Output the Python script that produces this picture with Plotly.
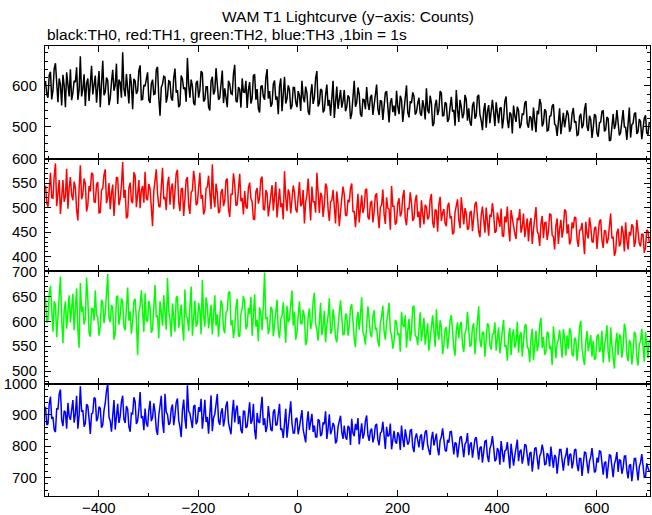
import plotly.graph_objects as go
from plotly.subplots import make_subplots

T_START = -507
BIN = 2.5

th0 = [612, 580, 571, 626, 634, 567, 589, 642, 655, 593, 560, 618, 603, 552, 627, 601, 548, 633, 596, 574,
       640, 565, 583, 612, 609, 645, 566, 590, 672, 574, 592, 628, 551, 606, 618, 563, 604, 649, 579, 598,
       625, 559, 597, 636, 548, 603, 661, 577, 585, 620, 613, 553, 570, 609, 639, 588, 601, 654, 556, 615,
       608, 571, 682, 593, 574, 629, 597, 557, 629, 605, 543, 617, 612, 580, 588, 637, 650, 566, 567, 602,
       599, 622, 633, 565, 558, 604, 615, 579, 580, 640, 646, 571, 527, 596, 604, 623, 621, 559, 575, 612,
       610, 570, 564, 619, 642, 583, 590, 548, 553, 625, 617, 592, 596, 561, 668, 603, 571, 615, 600, 558,
       553, 607, 612, 571, 589, 636, 631, 562, 566, 598, 598, 548, 540, 611, 622, 579, 587, 643, 609, 566,
       571, 601, 637, 558, 594, 572, 548, 612, 605, 581, 579, 629, 651, 563, 560, 597, 592, 547, 618, 585,
       584, 612, 546, 590, 609, 557, 570, 625, 628, 566, 592, 544, 535, 598, 601, 574, 566, 619, 641, 569,
       587, 549, 556, 604, 613, 566, 574, 531, 599, 618, 538, 580, 622, 557, 569, 601, 590, 543, 551, 596,
       596, 561, 548, 587, 577, 539, 612, 572, 560, 598, 583, 537, 529, 579, 604, 556, 571, 619, 636, 550,
       558, 592, 589, 535, 541, 578, 603, 551, 566, 527, 580, 612, 522, 569, 598, 544, 573, 590, 547, 563,
       590, 538, 548, 577, 571, 519, 532, 585, 612, 549, 559, 596, 580, 531, 525, 567, 566, 543, 597, 558,
       541, 572, 578, 529, 556, 590, 603, 544, 529, 565, 562, 517, 544, 583, 587, 552, 511, 559, 570, 536,
       552, 527, 588, 549, 531, 576, 566, 512, 540, 569, 601, 535, 523, 562, 558, 584, 575, 530, 536, 557,
       571, 533, 527, 565, 549, 518, 594, 541, 533, 576, 558, 502, 508, 553, 566, 529, 541, 587, 582, 526,
       528, 560, 556, 512, 519, 548, 573, 537, 541, 503, 590, 542, 512, 566, 549, 521, 532, 578, 567, 515,
       545, 511, 503, 552, 561, 520, 527, 574, 578, 530, 516, 492, 540, 558, 498, 537, 553, 509, 531, 566,
       536, 502, 560, 531, 509, 545, 548, 496, 521, 563, 574, 518, 497, 535, 530, 484, 552, 527, 512, 549,
       540, 497, 505, 533, 529, 558, 563, 508, 498, 526, 522, 491, 547, 515, 487, 539, 531, 568, 556, 501,
       509, 543, 538, 490, 492, 526, 527, 551, 555, 507, 503, 478, 521, 545, 482, 513, 534, 499, 516, 540,
       529, 488, 497, 532, 546, 510, 514, 479, 481, 525, 532, 497, 505, 543, 558, 502, 490, 527, 518, 473,
       498, 531, 527, 485, 476, 510, 512, 538, 539, 489, 493, 524, 520, 466, 468, 509, 531, 495, 506, 541,
       517, 479, 486, 523, 541, 500, 499, 468, 522, 547, 474, 505, 509, 531, 535, 483, 488, 519, 513, 470,
       495, 521, 528, 484, 482, 512]

th1 = [545, 509, 502, 548, 571, 520, 519, 565, 590, 503, 534, 556, 487, 531, 556, 512, 523, 579, 498, 540,
       562, 526, 515, 553, 541, 496, 474, 538, 586, 517, 527, 559, 549, 492, 505, 544, 533, 571, 568, 512,
       511, 547, 552, 489, 490, 536, 539, 567, 578, 509, 521, 550, 497, 528, 547, 483, 530, 562, 560, 505,
       518, 545, 593, 520, 536, 478, 482, 540, 551, 514, 509, 572, 565, 501, 527, 556, 499, 535, 544, 510,
       573, 519, 515, 548, 538, 491, 462, 533, 554, 578, 529, 503, 501, 546, 581, 517, 522, 495, 547, 563,
       506, 540, 549, 497, 531, 569, 577, 512, 493, 538, 540, 483, 518, 557, 562, 505, 487, 531, 535, 575,
       553, 505, 509, 548, 571, 518, 526, 486, 495, 539, 542, 565, 518, 497, 588, 524, 501, 549, 530, 489,
       492, 531, 538, 503, 514, 556, 559, 498, 481, 527, 527, 570, 547, 504, 506, 541, 569, 513, 520, 486,
       534, 502, 498, 540, 551, 519, 512, 477, 476, 532, 540, 508, 521, 558, 563, 497, 495, 536, 529, 482,
       502, 532, 546, 494, 517, 552, 480, 509, 539, 501, 509, 476, 574, 520, 493, 537, 528, 488, 514, 545,
       531, 497, 490, 522, 552, 503, 507, 536, 468, 511, 526, 559, 498, 474, 543, 512, 512, 490, 571, 518,
       489, 530, 524, 481, 506, 549, 541, 497, 473, 512, 515, 536, 497, 468, 533, 508, 462, 499, 518, 543,
       527, 485, 483, 516, 511, 539, 549, 492, 492, 460, 507, 528, 470, 502, 525, 489, 501, 536, 538, 481,
       476, 509, 514, 470, 491, 525, 529, 487, 458, 501, 505, 537, 486, 467, 521, 499, 497, 455, 544, 503,
       503, 465, 471, 509, 519, 482, 489, 522, 536, 478, 464, 499, 497, 531, 510, 473, 478, 515, 526, 481,
       492, 459, 515, 487, 466, 506, 501, 476, 481, 517, 528, 470, 459, 496, 494, 451, 506, 522, 473, 489,
       497, 468, 462, 503, 510, 478, 483, 446, 449, 491, 502, 517, 475, 458, 521, 486, 466, 499, 489, 455,
       458, 490, 493, 452, 476, 507, 512, 469, 451, 440, 485, 502, 468, 449, 500, 477, 443, 486, 481, 509,
       487, 449, 452, 490, 476, 461, 498, 443, 441, 482, 470, 502, 459, 431, 495, 472, 463, 447, 436, 479,
       474, 497, 449, 462, 488, 440, 462, 478, 431, 468, 479, 426, 455, 487, 501, 452, 446, 422, 467, 483,
       438, 469, 470, 434, 452, 487, 486, 444, 441, 415, 463, 478, 426, 457, 475, 439, 457, 496, 493, 447,
       466, 425, 433, 470, 458, 481, 479, 436, 420, 454, 455, 469, 442, 405, 471, 446, 437, 480, 462, 431,
       429, 458, 461, 416, 447, 472, 476, 433, 418, 454, 452, 427, 436, 464, 488, 437, 441, 402, 410, 449,
       457, 421, 428, 463, 449, 411, 470, 434, 415, 451, 443, 466, 461, 420, 432, 475, 454, 427, 421, 446,
       446, 408, 419, 455, 452, 428]

th2 = [648, 597, 603, 655, 671, 614, 579, 640, 633, 568, 612, 660, 690, 603, 556, 622, 640, 585, 618, 652,
       597, 638, 655, 582, 621, 666, 584, 547, 677, 619, 630, 594, 606, 688, 644, 577, 569, 626, 625, 601,
       662, 612, 608, 571, 589, 643, 637, 596, 615, 658, 695, 607, 598, 632, 628, 563, 574, 649, 651, 593,
       611, 646, 639, 590, 582, 627, 668, 601, 620, 575, 597, 641, 645, 604, 532, 618, 631, 662, 603, 579,
       656, 602, 599, 641, 627, 577, 584, 631, 673, 608, 612, 566, 640, 619, 591, 652, 618, 583, 687, 621,
       603, 569, 636, 614, 579, 648, 650, 586, 617, 633, 592, 561, 664, 609, 608, 580, 628, 670, 571, 612,
       641, 589, 596, 637, 622, 574, 683, 611, 589, 648, 631, 586, 605, 633, 574, 622, 652, 591, 614, 569,
       598, 642, 633, 585, 576, 618, 621, 657, 660, 592, 602, 566, 587, 629, 645, 571, 569, 614, 626, 651,
       637, 584, 590, 627, 615, 649, 571, 603, 654, 589, 603, 560, 628, 615, 582, 633, 698, 604, 609, 574,
       586, 629, 624, 570, 598, 612, 643, 581, 566, 604, 611, 638, 589, 557, 631, 598, 604, 642, 662, 591,
       619, 563, 577, 611, 640, 596, 594, 623, 609, 552, 561, 609, 626, 584, 598, 640, 657, 596, 583, 561,
       608, 637, 572, 590, 621, 558, 593, 611, 646, 575, 580, 624, 603, 567, 558, 597, 617, 642, 595, 573,
       574, 615, 612, 571, 589, 627, 634, 592, 566, 548, 601, 619, 583, 612, 648, 578, 571, 553, 604, 630,
       603, 575, 568, 611, 622, 583, 587, 559, 549, 597, 610, 631, 579, 563, 596, 614, 637, 580, 572, 545,
       561, 603, 598, 572, 576, 539, 619, 593, 588, 612, 547, 581, 605, 560, 580, 628, 631, 571, 569, 552,
       593, 618, 560, 579, 607, 553, 575, 596, 541, 568, 598, 612, 582, 549, 624, 577, 563, 602, 589, 534,
       552, 584, 588, 545, 569, 603, 612, 566, 547, 531, 581, 598, 566, 592, 599, 553, 538, 576, 585, 619,
       584, 549, 553, 588, 596, 534, 571, 605, 630, 561, 548, 579, 577, 529, 561, 596, 591, 552, 543, 574,
       575, 598, 541, 567, 588, 536, 560, 593, 603, 549, 552, 521, 569, 587, 532, 571, 584, 547, 558, 599,
       537, 571, 578, 529, 556, 590, 594, 548, 545, 518, 566, 585, 522, 559, 581, 540, 553, 592, 607, 546,
       569, 533, 538, 579, 575, 544, 551, 512, 590, 563, 526, 557, 562, 583, 547, 527, 584, 566, 531, 572,
       544, 586, 579, 533, 530, 567, 563, 521, 549, 588, 601, 545, 527, 512, 558, 581, 540, 561, 572, 529,
       561, 523, 526, 569, 574, 538, 545, 581, 517, 552, 566, 592, 539, 518, 588, 551, 531, 505, 555, 577,
       532, 574, 569, 527, 548, 595, 583, 533, 520, 562, 556, 513, 537, 579, 574, 528, 511, 554, 560, 585,
       548, 519, 579, 552, 526, 563]

th3 = [926, 868, 871, 935, 958, 887, 893, 852, 845, 921, 917, 966, 981, 884, 864, 913, 909, 856, 938, 895,
       884, 929, 947, 875, 902, 961, 856, 898, 991, 910, 915, 862, 873, 934, 928, 887, 839, 903, 906, 955,
       952, 880, 889, 926, 921, 859, 868, 914, 937, 977, 998, 893, 881, 846, 912, 947, 853, 899, 935, 874,
       895, 942, 961, 886, 874, 928, 918, 862, 846, 905, 903, 956, 942, 871, 880, 918, 973, 889, 897, 851,
       920, 874, 862, 913, 945, 880, 891, 937, 908, 853, 836, 898, 929, 961, 876, 842, 967, 909, 901, 868,
       874, 919, 933, 867, 899, 940, 952, 883, 862, 829, 915, 949, 887, 856, 994, 912, 905, 873, 858, 927,
       931, 870, 879, 924, 910, 951, 856, 895, 948, 877, 893, 840, 919, 962, 848, 891, 902, 938, 966, 881,
       868, 907, 921, 863, 887, 929, 943, 874, 860, 838, 905, 948, 876, 915, 930, 870, 897, 851, 841, 912,
       911, 858, 863, 917, 940, 872, 882, 935, 851, 822, 906, 878, 874, 920, 958, 867, 889, 845, 862, 928,
       897, 853, 848, 909, 918, 866, 869, 895, 935, 852, 856, 826, 884, 919, 827, 871, 901, 943, 873, 842,
       842, 887, 890, 838, 861, 899, 915, 853, 837, 812, 876, 911, 852, 874, 903, 845, 866, 829, 829, 886,
       881, 832, 839, 876, 870, 911, 823, 857, 902, 838, 851, 874, 864, 809, 817, 862, 879, 897, 845, 823,
       866, 829, 821, 865, 859, 804, 887, 842, 832, 871, 851, 890, 806, 843, 873, 824, 840, 881, 898, 835,
       817, 849, 856, 812, 829, 866, 871, 820, 803, 842, 846, 878, 823, 791, 862, 831, 835, 872, 790, 829,
       849, 815, 808, 844, 835, 788, 866, 822, 797, 854, 829, 805, 814, 851, 853, 798, 781, 826, 841, 812,
       796, 831, 838, 788, 810, 845, 851, 803, 786, 772, 823, 846, 802, 827, 840, 791, 771, 818, 829, 857,
       826, 787, 783, 820, 811, 846, 847, 798, 774, 812, 808, 764, 792, 828, 831, 784, 765, 806, 814, 842,
       771, 804, 812, 763, 788, 823, 829, 781, 757, 795, 799, 747, 780, 816, 818, 768, 749, 792, 805, 832,
       797, 752, 758, 794, 785, 741, 816, 774, 749, 785, 788, 813, 766, 729, 808, 779, 738, 769, 791, 821,
       752, 783, 789, 744, 767, 806, 803, 758, 738, 777, 781, 719, 759, 792, 796, 751, 726, 768, 778, 805,
       784, 741, 743, 778, 770, 735, 799, 762, 731, 772, 764, 712, 751, 789, 789, 746, 722, 758, 771, 795,
       738, 772, 776, 729, 751, 788, 791, 742, 720, 761, 760, 705, 744, 781, 779, 733, 713, 752, 766, 794,
       759, 716, 722, 763, 748, 785, 783, 733, 709, 746, 751, 697, 735, 772, 770, 728, 701, 743, 757, 781,
       718, 756, 754, 712, 731, 768, 769, 722, 697, 739, 742, 688, 726, 760, 761, 714, 691, 734, 748, 775,
       739, 701, 702, 745, 731, 719]

series = [("TH0", th0, "#000000"), ("TH1", th1, "#ff0000"),
          ("TH2", th2, "#00ff00"), ("TH3", th3, "#0000ff")]

y_ranges = [[423, 697], [371, 600], [475, 701], [641, 1000]]
y_dticks = [100, 50, 50, 100]
y_minor = [20, 10, 10, 20]
x_range = [-508, 707]

fig = make_subplots(rows=4, cols=1, shared_xaxes=True, vertical_spacing=0)

for i, (name, vals, col) in enumerate(series):
    t = [T_START + BIN * k for k in range(len(vals))]
    fig.add_trace(go.Scatter(x=t, y=vals, mode="lines", name=name,
                             line=dict(color=col, width=1.5),
                             showlegend=False), row=i + 1, col=1)
    fig.update_yaxes(range=y_ranges[i], dtick=y_dticks[i], tick0=0,
                     row=i + 1, col=1,
                     minor=dict(dtick=y_minor[i], tick0=0, ticklen=3,
                                tickcolor="black", ticks="inside"))

fig.update_xaxes(range=x_range, dtick=200, tick0=0, showline=True,
                 mirror="ticks", linecolor="black", linewidth=1,
                 ticks="inside", ticklen=6, tickcolor="black",
                 showgrid=False, zeroline=False, automargin=False,
                 ticklabelstandoff=-2,
                 minor=dict(dtick=100, tick0=0, ticklen=3,
                            tickcolor="black", ticks="inside"))
fig.update_yaxes(showline=True, mirror="ticks", linecolor="black",
                 linewidth=1, ticks="inside", ticklen=6, tickcolor="black",
                 showgrid=False, zeroline=False, automargin=False,
                 ticklabelstandoff=4)

fig.add_annotation(text="WAM T1 Lightcurve (y\u2212axis: Counts)",
                   xref="paper", yref="paper", x=0.5, y=1,
                   xanchor="center", yanchor="bottom", yshift=19,
                   showarrow=False, font=dict(size=15.5, color="black"))
fig.add_annotation(text="black:TH0, red:TH1, green:TH2, blue:TH3 ,1bin = 1s",
                   xref="paper", yref="paper", x=0, y=1,
                   xanchor="left", yanchor="bottom", yshift=1,
                   showarrow=False, font=dict(size=15.5, color="black"))

fig.update_layout(width=652, height=515,
                  margin=dict(l=45, r=2, t=46, b=19),
                  paper_bgcolor="white", plot_bgcolor="white",
                  font=dict(family="Liberation Sans, Arial, sans-serif",
                            size=15, color="black"))

fig.write_html("out.html", config={"displayModeBar": False},
               post_script="document.body.style.margin='0';"
                           "document.body.style.overflow='hidden';")
